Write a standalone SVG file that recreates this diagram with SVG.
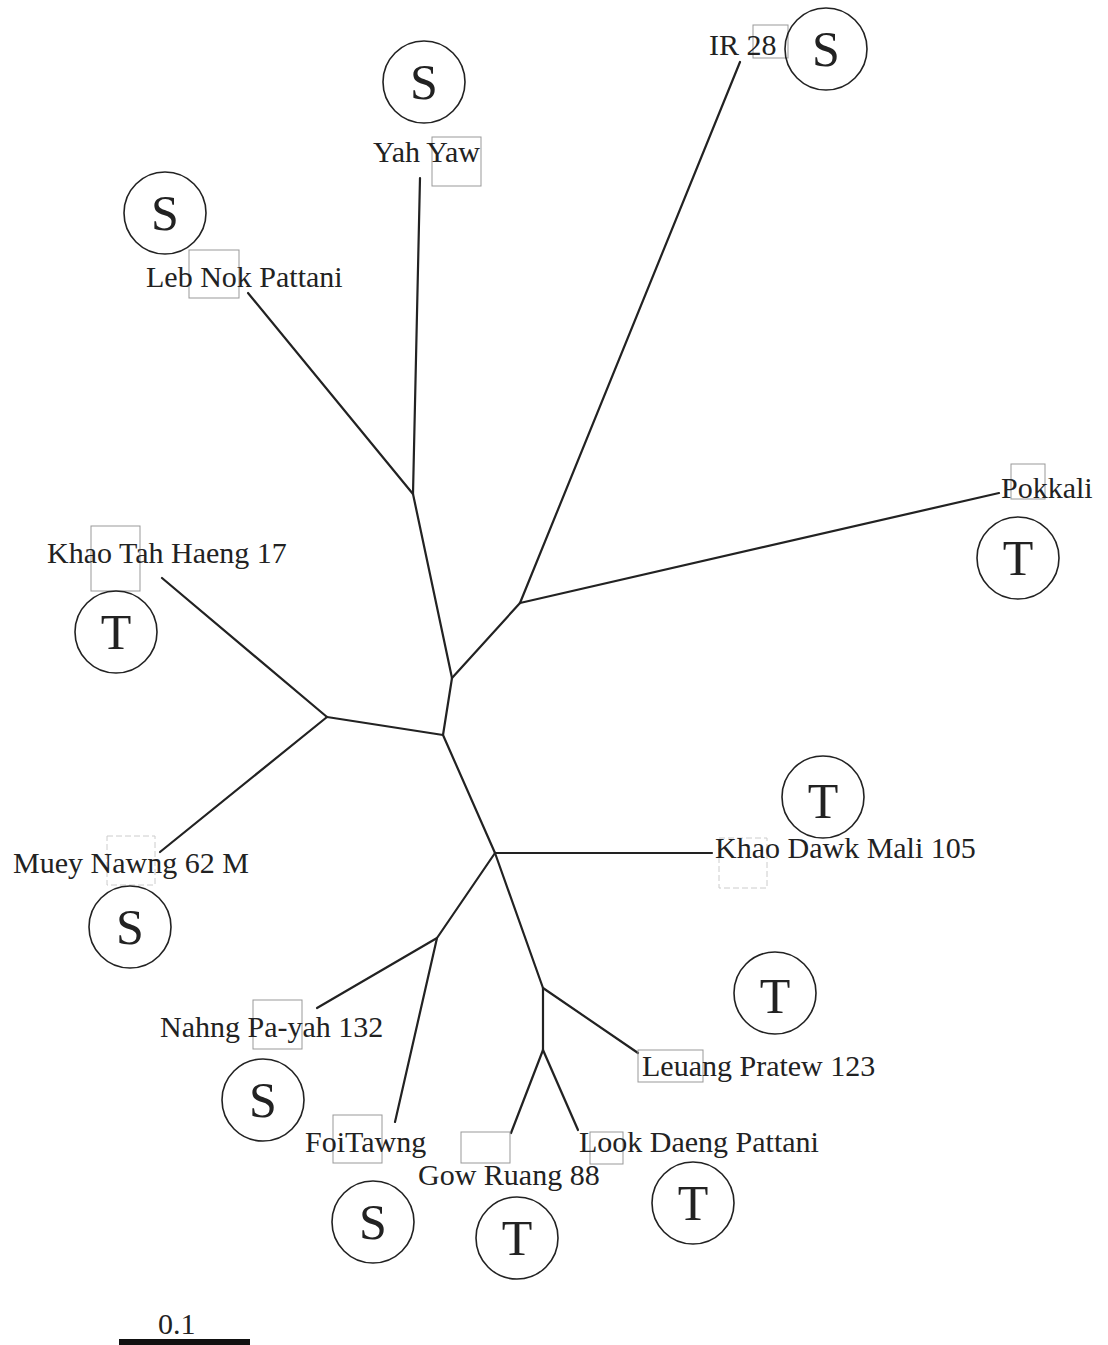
<svg xmlns="http://www.w3.org/2000/svg" width="1108" height="1345" viewBox="0 0 1108 1345">
<style>
.e{stroke:#222;stroke-width:2.2;fill:none;stroke-linecap:round}
.c{fill:none;stroke:#222;stroke-width:1.6}
.b{fill:none;stroke:#999;stroke-width:1}
.f{fill:none;stroke:#ccc;stroke-width:1;stroke-dasharray:6 3}
.t{font-family:"Liberation Serif","Times New Roman",serif;font-size:30px;fill:#222}
.L{font-family:"Liberation Serif","Times New Roman",serif;font-size:50px;fill:#222;text-anchor:middle}
</style>
<rect width="1108" height="1345" fill="#fff"/>
<g id="connectors">
<line class="e" x1="413" y1="494" x2="420" y2="178"/>
<line class="e" x1="413" y1="494" x2="248" y2="293"/>
<line class="e" x1="413" y1="494" x2="452" y2="678"/>
<line class="e" x1="452" y1="678" x2="520" y2="603"/>
<line class="e" x1="520" y1="603" x2="740" y2="62"/>
<line class="e" x1="520" y1="603" x2="999" y2="493"/>
<line class="e" x1="452" y1="678" x2="443" y2="735"/>
<line class="e" x1="443" y1="735" x2="327" y2="717"/>
<line class="e" x1="327" y1="717" x2="162" y2="578"/>
<line class="e" x1="327" y1="717" x2="160" y2="852"/>
<line class="e" x1="443" y1="735" x2="495" y2="853"/>
<line class="e" x1="495" y1="853" x2="712" y2="853"/>
<line class="e" x1="495" y1="853" x2="437" y2="938"/>
<line class="e" x1="437" y1="938" x2="317" y2="1008"/>
<line class="e" x1="437" y1="938" x2="395" y2="1122"/>
<line class="e" x1="495" y1="853" x2="543" y2="988"/>
<line class="e" x1="543" y1="988" x2="638" y2="1053"/>
<line class="e" x1="543" y1="988" x2="543" y2="1050"/>
<line class="e" x1="543" y1="1050" x2="511" y2="1133"/>
<line class="e" x1="543" y1="1050" x2="578" y2="1130"/>
</g>
<g id="ir28">
<rect class="b" x="753" y="25" width="35" height="33"/>
<text class="t" x="709" y="55">IR 28</text>
<circle class="c" cx="826" cy="49" r="41"/><text class="L" x="826" y="66">S</text>
</g>
<g id="yahyaw">
<rect class="b" x="432" y="137" width="49" height="49"/>
<text class="t" x="373" y="162">Yah Yaw</text>
<circle class="c" cx="424" cy="82" r="41"/><text class="L" x="424" y="99">S</text>
</g>
<g id="lebnok">
<rect class="b" x="189" y="250" width="50" height="48"/>
<text class="t" x="146" y="287">Leb Nok Pattani</text>
<circle class="c" cx="165" cy="213" r="41"/><text class="L" x="165" y="230">S</text>
</g>
<g id="pokkali">
<rect class="b" x="1011" y="464" width="34" height="35"/>
<text class="t" x="1001" y="498">Pokkali</text>
<circle class="c" cx="1018" cy="558" r="41"/><text class="L" x="1018" y="575">T</text>
</g>
<g id="khaotah">
<rect class="b" x="91" y="526" width="49" height="65"/>
<text class="t" x="47" y="563">Khao Tah Haeng 17</text>
<circle class="c" cx="116" cy="632" r="41"/><text class="L" x="116" y="649">T</text>
</g>
<g id="muey">
<rect class="f" x="107" y="836" width="48" height="49"/>
<text class="t" x="13" y="873">Muey Nawng 62 M</text>
<circle class="c" cx="130" cy="927" r="41"/><text class="L" x="130" y="944">S</text>
</g>
<g id="khaodawk">
<rect class="f" x="719" y="838" width="48" height="50"/>
<text class="t" x="715" y="858">Khao Dawk Mali 105</text>
<circle class="c" cx="823" cy="797" r="41"/><text class="L" x="823" y="818">T</text>
</g>
<g id="leuang">
<rect class="b" x="638" y="1050" width="65" height="32"/>
<text class="t" x="642" y="1076">Leuang Pratew 123</text>
<circle class="c" cx="775" cy="993" r="41"/><text class="L" x="775" y="1013">T</text>
</g>
<g id="nahng">
<rect class="b" x="253" y="1000" width="49" height="49"/>
<text class="t" x="160" y="1037">Nahng Pa-yah 132</text>
<circle class="c" cx="263" cy="1100" r="41"/><text class="L" x="263" y="1117">S</text>
</g>
<g id="foitawng">
<rect class="b" x="333" y="1115" width="49" height="48"/>
<text class="t" x="305" y="1152">FoiTawng</text>
<circle class="c" cx="373" cy="1222" r="41"/><text class="L" x="373" y="1239">S</text>
</g>
<g id="gowruang">
<rect class="b" x="461" y="1132" width="49" height="31"/>
<text class="t" x="418" y="1185">Gow Ruang 88</text>
<circle class="c" cx="517" cy="1238" r="41"/><text class="L" x="517" y="1255">T</text>
</g>
<g id="lookdaeng">
<rect class="b" x="590" y="1132" width="33" height="32"/>
<text class="t" x="579" y="1152">Look Daeng Pattani</text>
<circle class="c" cx="693" cy="1203" r="41"/><text class="L" x="693" y="1220">T</text>
</g>
<g id="scale">
<text class="t" x="158" y="1334">0.1</text>
<rect x="119" y="1339" width="131" height="6" fill="#111"/>
</g>
</svg>
